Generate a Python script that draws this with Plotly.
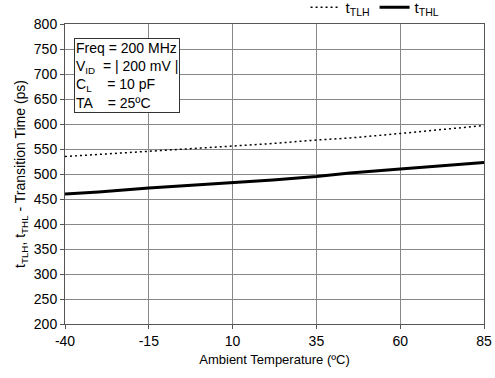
import plotly.graph_objects as go

temps = [-40, -30, -15, 0, 10, 22, 35, 45, 60, 72, 85]
t_tlh = [535, 539, 546, 551, 556, 561, 568, 572, 581, 588, 597]
t_thl = [460, 464, 472, 478, 483, 488, 495, 502, 510, 516, 523]

x_ticks = [-40, -15, 10, 35, 60, 85]
x_tick_labels = ["-40", "-15", "10", "35", "60", "85"]
y_ticks = list(range(200, 801, 50))

fig = go.Figure()
fig.add_trace(go.Scatter(x=temps, y=t_tlh, mode="lines", name="t<sub>TLH</sub>",
                         line=dict(color="black", width=1.5, dash="2px,3px")))
fig.add_trace(go.Scatter(x=temps, y=t_thl, mode="lines", name="t<sub>THL</sub>",
                         line=dict(color="black", width=3)))

fig.add_annotation(
    xref="paper", yref="paper", x=0.022, y=0.955, xanchor="left", yanchor="top",
    align="left", showarrow=False,
    text="Freq = 200 MHz<br>V<sub>ID</sub>  = | 200 mV |<br>C<sub>L</sub>    = 10 pF<br>TA    = 25ºC",
    font=dict(family="Liberation Sans, Arial", size=14, color="black"),
    bordercolor="#333", borderwidth=1, bgcolor="white", borderpad=1,
)

fig.update_layout(
    width=495, height=378,
    margin=dict(l=65, r=11, t=24, b=54, autoexpand=False),
    paper_bgcolor="white", plot_bgcolor="white",
    font=dict(family="Liberation Sans, Arial", size=14, color="black"),
    showlegend=True,
    legend=dict(orientation="h", x=0.74, xanchor="center", y=1.0, yanchor="bottom",
                font=dict(size=15), bgcolor="rgba(0,0,0,0)", tracegroupgap=0),
    xaxis=dict(range=[-40, 85], tickvals=x_ticks, ticktext=x_tick_labels,
               showgrid=True, gridcolor="#888",
               gridwidth=1, zeroline=False, showline=True, linecolor="#555", mirror=True,
               ticks="outside", ticklen=4, tickcolor="#555",
               title=dict(text="Ambient Temperature (ºC)", font=dict(size=13), standoff=7)),
    yaxis=dict(range=[200, 800], tickvals=y_ticks, showgrid=True, gridcolor="#888",
               gridwidth=1, zeroline=False, showline=True, linecolor="#555", mirror=True,
               ticks="outside", ticklen=4, tickcolor="#555",
               title=dict(text="t<sub>TLH</sub>, t<sub>THL</sub> - Transition Time (ps)",
                          font=dict(size=14), standoff=4)),
)

fig.write_html("out.html", post_script="document.body.style.margin='0';",
               config={"displayModeBar": False})
